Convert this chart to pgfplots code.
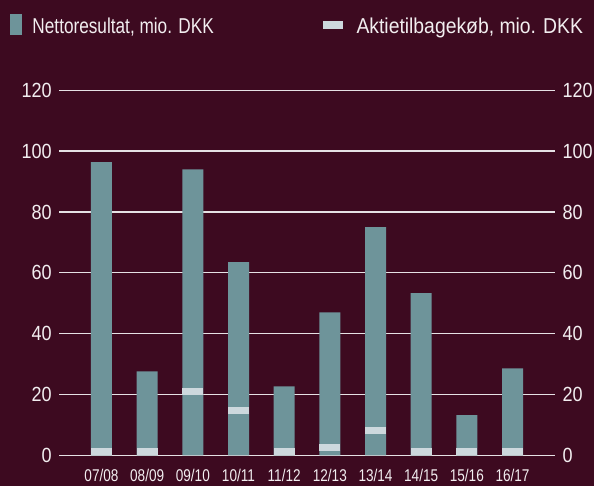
\documentclass[border=0pt]{standalone}
\usepackage{fontspec}
\setmainfont{Liberation Sans}[FakeStretch=0.80]
\newfontfamily\legb{Liberation Sans}[FakeStretch=0.90]
\newfontfamily\xlab{Liberation Sans}[FakeStretch=0.80]
\newfontfamily\ylab{Liberation Sans}[FakeStretch=0.88]
\usepackage{pgfplots}
\pgfplotsset{compat=1.18}
\definecolor{bg}{HTML}{3D0A20}
\definecolor{teal}{HTML}{6E949A}
\definecolor{band}{HTML}{CDD8DD}
\definecolor{gridcol}{HTML}{E6E1E4}
\definecolor{txt}{HTML}{F2EEF0}
\begin{document}
\begin{tikzpicture}
\fill[bg] (-59.3pt,-30.7pt) rectangle (534.7pt,455.3pt);
\begin{axis}[
  scale only axis, width=495.7pt, height=365pt,
  xmin=-0.924, xmax=9.93, ymin=0, ymax=120,
  axis line style={draw=none},
  xtick={0,...,9},
  xticklabels={07/08,08/09,09/10,10/11,11/12,12/13,13/14,14/15,15/16,16/17},
  ytick={0,20,...,120},
  major tick length=0pt,
  xmajorgrids=false, ymajorgrids=true,
  major grid style={draw=gridcol, line width=1.4pt},
  /pgf/number format/assume math mode=true,
  yticklabel style={font=\ylab\fontsize{20.5}{20}\selectfont, text=txt, xshift=-4pt},
  xticklabel style={font=\xlab\fontsize{17}{17}\selectfont, text=txt, yshift=-10.5pt},
  clip=false,
]
\addplot[ybar, bar width=21pt, fill=teal, draw=none] coordinates {
 (0,96.4) (1,27.6) (2,94.0) (3,63.5) (4,22.7) (5,47.0) (6,75.0) (7,53.3) (8,13.2) (9,28.6)};
\addplot[only marks, mark=-, mark size=10.5pt, mark options={draw=band, line width=7pt}] coordinates {
 (0,1.1) (1,1.1) (2,20.9) (3,14.6) (4,1.1) (5,2.6) (6,8.1) (7,1.1) (8,1.1) (9,1.1)};
\end{axis}
\begin{axis}[
  scale only axis, width=495.7pt, height=365pt,
  xmin=-0.924, xmax=9.93, ymin=0, ymax=120,
  hide x axis, axis y line*=right, y axis line style={draw=none},
  ytick={0,20,...,120}, major tick length=0pt,
  /pgf/number format/assume math mode=true,
  yticklabel style={font=\ylab\fontsize{20.5}{20}\selectfont, text=txt, xshift=4pt},
]
\addplot[draw=none] coordinates {(0,0)};
\end{axis}
\fill[teal] (-49.3pt,420.3pt) rectangle (-37.3pt,441.3pt);
\node[anchor=base west, inner sep=0pt, text=txt, font=\fontsize{21.5}{21}\selectfont] at (-27pt,421.3pt) {Nettoresultat, mio. DKK};
\fill[band] (263.7pt,426.3pt) rectangle (283.7pt,434.3pt);
\node[anchor=base west, inner sep=0pt, text=txt, font=\legb\fontsize{21.5}{21}\selectfont] at (297pt,421.3pt) {Aktietilbagekøb, mio. DKK};
\pgfresetboundingbox
\useasboundingbox (-59.3pt,-30.7pt) rectangle (534.7pt,455.3pt);
\end{tikzpicture}
\end{document}
